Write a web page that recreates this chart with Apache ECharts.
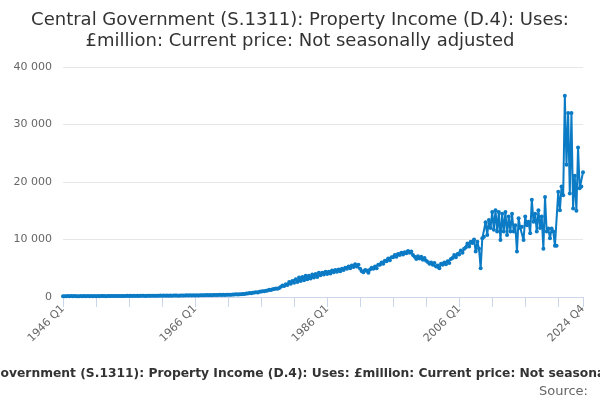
<!DOCTYPE html>
<html>
<head>
<meta charset="utf-8">
<script src="https://cdn.jsdelivr.net/npm/echarts@6/dist/echarts.min.js"></script>
<style>
html,body{margin:0;padding:0;background:#fff;}
#chart{width:600px;height:400px;}
</style>
</head>
<body>
<div id="chart"></div>
<script>
var titleLines = ['Central Government (S.1311): Property Income (D.4): Uses:', '£million: Current price: Not seasonally adjusted'];
var seriesName = 'Central Government (S.1311): Property Income (D.4): Uses: £million: Current price: Not seasonally adjusted';
var sourceText = 'Source:';
var firstYear = 1946;
var lastYear = 2024;
var quarterNames = ['Q1', 'Q2', 'Q3', 'Q4'];
var tickLabels = ['1946 Q1', '1966 Q1', '1986 Q1', '2006 Q1', '2024 Q4'];
var yTicks = [0, 10000, 20000, 30000, 40000];

// £million per quarter, 1946 Q1 .. 2024 Q4 (one row per year)
var propertyIncome = [
  130, 150, 120, 160,
  135, 155, 125, 165,
  140, 150, 130, 160,
  140, 155, 130, 165,
  145, 160, 135, 170,
  150, 165, 140, 175,
  160, 175, 150, 185,
  165, 180, 155, 190,
  170, 185, 160, 195,
  175, 195, 170, 200,
  185, 200, 180, 210,
  190, 210, 185, 220,
  200, 215, 195, 225,
  205, 220, 200, 230,
  215, 230, 210, 245,
  225, 240, 220, 255,
  235, 250, 230, 265,
  240, 260, 235, 270,
  250, 270, 245, 285,
  265, 285, 260, 300,
  280, 300, 275, 315,
  295, 315, 290, 335,
  315, 335, 310, 355,
  335, 360, 330, 380,
  360, 385, 350, 400,
  390, 410, 380, 430,
  430, 460, 420, 480,
  500, 540, 520, 590,
  620, 680, 660, 740,
  780, 830, 800, 900,
  950, 1020, 990, 1100,
  1150, 1250, 1200, 1330,
  1380, 1480, 1420, 1560,
  1800, 2000, 1900, 2200,
  2100, 2600, 2300, 2800,
  2500, 3100, 2600, 3400,
  2800, 3500, 2900, 3700,
  3100, 3700, 3200, 3900,
  3400, 4000, 3500, 4200,
  3800, 4200, 3900, 4400,
  4000, 4400, 4100, 4600,
  4300, 4700, 4400, 4800,
  4500, 4900, 4700, 5100,
  4900, 5300, 5000, 5500,
  5200, 5700, 5300, 5600,
  4900, 4500, 4300, 4700,
  4600, 4200, 4800, 5100,
  4900, 5300, 5000, 5600,
  5600, 6000, 5800, 6300,
  6200, 6700, 6400, 6900,
  6900, 7300, 7000, 7500,
  7300, 7700, 7400, 7800,
  7600, 8000, 7700, 7900,
  7300, 7000, 6600, 7100,
  6700, 7000, 6500, 6800,
  6300, 6100, 5800, 6000,
  5600, 5900, 5300, 5500,
  5000, 5800, 5600, 6000,
  5700, 6200, 5900, 6600,
  6800, 7300, 6900, 7500,
  7400, 8100, 7700, 8400,
  8600, 9300, 8800, 9600,
  9400, 10000, 7900, 9600,
  8400, 5000, 10200, 10500,
  13000, 10800, 13400, 12000,
  14800, 11700, 15100, 11400,
  14800, 9900, 14500, 11400,
  14800, 10800, 14000, 11400,
  14500, 11400, 12500, 7900,
  13700, 12000, 12200, 9900,
  14000, 12500, 13100, 11100,
  16900, 13100, 14500, 11400,
  15100, 12000, 14000, 8400,
  17400, 11400, 11900, 10200,
  11900, 11400, 8900, 8900,
  18300, 15100, 19200, 17700,
  35000, 23000, 32000, 18000,
  32000, 15400, 21100, 15000,
  26000, 18900, 19200, 21700
];

var categories = [];
for (var y = firstYear; y <= lastYear; y++) {
  for (var q = 0; q < 4; q++) categories.push(y + ' ' + quarterNames[q]);
}
var lastIndex = categories.length - 1;

function fmt(v) {
  return String(v).replace(/\B(?=(\d{3})+(?!\d))/g, ' ');
}

var chart = echarts.init(document.getElementById('chart'), null, {renderer: 'canvas'});
chart.setOption({
  animation: false,
  textStyle: {fontFamily: 'DejaVu Sans'},
  title: [{
    text: titleLines.join('\n'),
    left: 'center',
    top: 5,
    textStyle: {fontFamily: 'DejaVu Sans', fontSize: 18, fontWeight: 'normal', color: '#333333', lineHeight: 21}
  }, {
    text: sourceText,
    right: 7,
    top: 380,
    textStyle: {fontFamily: 'DejaVu Sans', fontSize: 13, fontWeight: 'normal', color: '#666666'}
  }],
  legend: {
    data: [seriesName],
    left: 'center',
    top: 363,
    itemWidth: 16,
    itemHeight: 8,
    textStyle: {fontFamily: 'DejaVu Sans', fontSize: 12.3, fontWeight: 'bold', color: '#333333'}
  },
  grid: {left: 63, right: 17, top: 67, bottom: 103, containLabel: false},
  xAxis: {
    type: 'category',
    data: categories,
    boundaryGap: false,
    axisLine: {lineStyle: {color: '#ccd6eb', width: 1}},
    axisTick: {
      show: true,
      length: 10,
      lineStyle: {color: '#ccd6eb'},
      interval: function (i) { return i % 20 === 0 || i === lastIndex; }
    },
    axisLabel: {
      rotate: 45,
      color: '#666666',
      fontSize: 11,
      fontFamily: 'DejaVu Sans',
      margin: 10,
      interval: function (i, v) { return tickLabels.indexOf(v) >= 0; }
    },
    splitLine: {show: false}
  },
  yAxis: {
    type: 'value',
    min: yTicks[0],
    max: yTicks[yTicks.length - 1],
    interval: yTicks[1] - yTicks[0],
    axisLine: {show: false},
    axisTick: {show: false},
    axisLabel: {color: '#666666', fontSize: 11, fontFamily: 'DejaVu Sans', margin: 11, formatter: fmt},
    splitLine: {lineStyle: {color: '#e6e6e6'}}
  },
  series: [{
    name: seriesName,
    type: 'line',
    data: propertyIncome,
    color: '#0b7bc5',
    symbol: 'circle',
    symbolSize: 4,
    showAllSymbol: true,
    lineStyle: {width: 2},
    emphasis: {disabled: true}
  }]
});
</script>
</body>
</html>
